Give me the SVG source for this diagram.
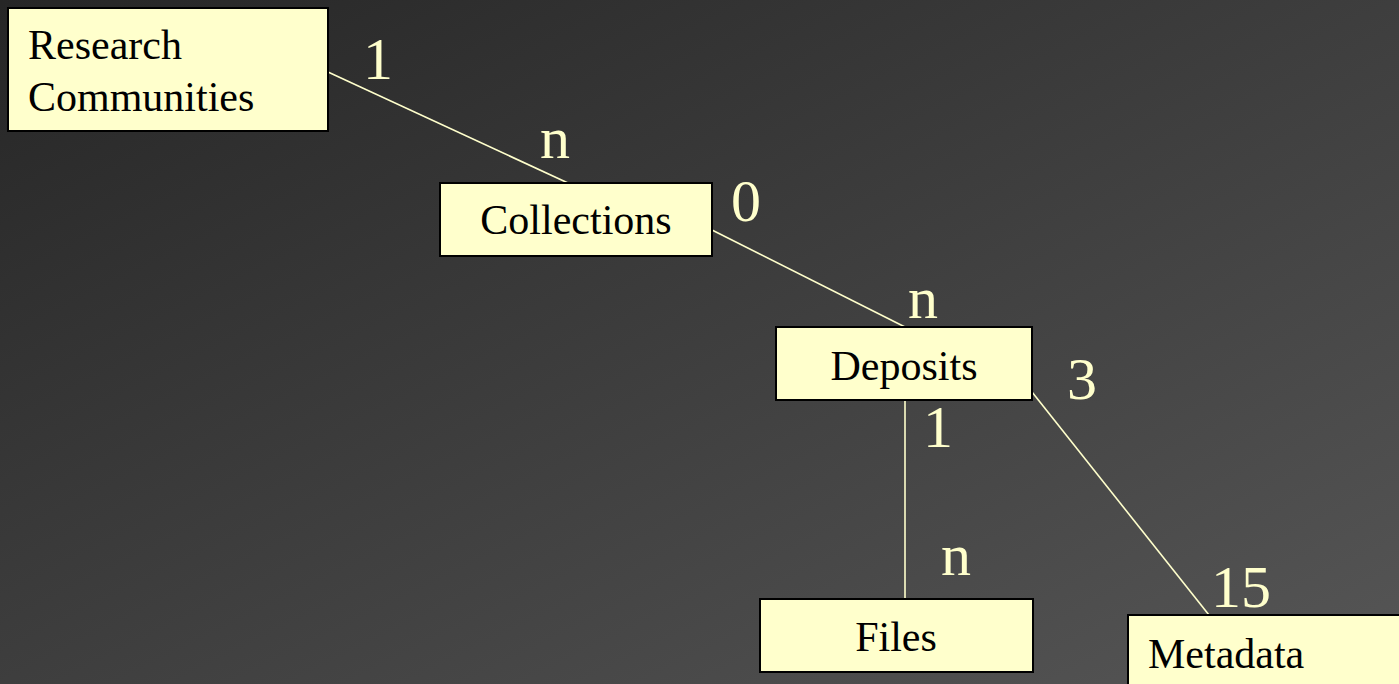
<svg xmlns="http://www.w3.org/2000/svg" width="1399" height="684" viewBox="0 0 1399 684">
  <defs>
    <linearGradient id="bg" x1="0" y1="0" x2="1" y2="1">
      <stop offset="0" stop-color="#262626"/>
      <stop offset="1" stop-color="#565656"/>
    </linearGradient>
    <style>
      .box { fill: #FFFFCC; stroke: #000000; stroke-width: 2; }
      .lbl { font-size: 42px; fill: #000000; }
      .card { font-size: 60px; fill: #FFFFCC; }
      .conn { stroke: #FFFFCC; stroke-width: 1.6; fill: none; }
    </style>
  </defs>
  <rect x="0" y="0" width="1399" height="684" fill="url(#bg)"/>

  <g id="connectors">
    <line class="conn" x1="328" y1="72" x2="568" y2="183"/>
    <line class="conn" x1="712" y1="230" x2="905" y2="327"/>
    <line class="conn" x1="905" y1="400" x2="905" y2="599"/>
    <line class="conn" x1="1032" y1="392" x2="1209" y2="615"/>
  </g>

  <g font-family="Liberation Serif, DejaVu Serif, serif">
    <g id="research-communities">
      <rect class="box" x="8" y="8" width="320" height="123"/>
      <text class="lbl" x="28" y="59">Research</text>
      <text class="lbl" x="28" y="111">Communities</text>
    </g>
    <g id="collections">
      <rect class="box" x="440" y="183" width="272" height="73"/>
      <text class="lbl" x="576" y="234" text-anchor="middle">Collections</text>
    </g>
    <g id="deposits">
      <rect class="box" x="776" y="327" width="256" height="73"/>
      <text class="lbl" x="904" y="380" text-anchor="middle">Deposits</text>
    </g>
    <g id="files">
      <rect class="box" x="760" y="599" width="273" height="73"/>
      <text class="lbl" x="896" y="651" text-anchor="middle">Files</text>
    </g>
    <g id="metadata">
      <rect class="box" x="1128" y="615" width="280" height="80"/>
      <text class="lbl" x="1148" y="668">Metadata</text>
    </g>

    <g id="cardinalities">
      <text class="card" x="363" y="79">1</text>
      <text class="card" x="540" y="158">n</text>
      <text class="card" x="731" y="221">0</text>
      <text class="card" x="908" y="318">n</text>
      <text class="card" x="1067" y="399">3</text>
      <text class="card" x="923" y="447">1</text>
      <text class="card" x="941" y="575">n</text>
      <text class="card" x="1211" y="607">15</text>
    </g>
  </g>
</svg>
